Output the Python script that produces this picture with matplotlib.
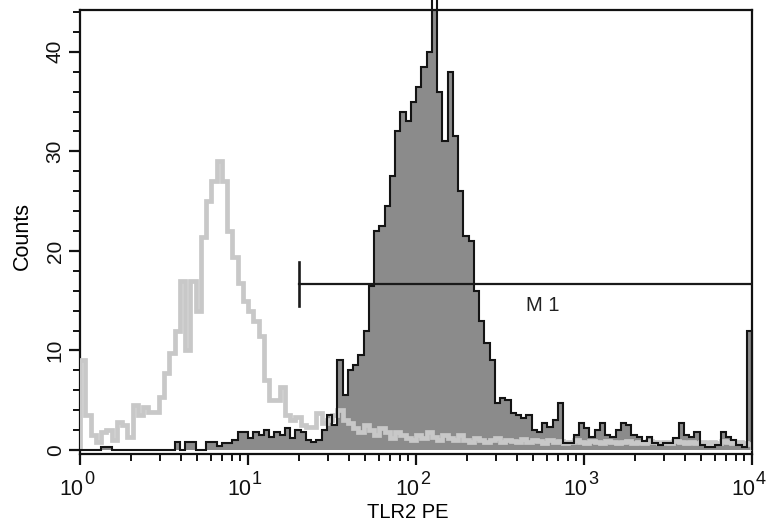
import numpy as np
import matplotlib
matplotlib.use("Agg")
import matplotlib.pyplot as plt
from matplotlib.ticker import LogLocator, MultipleLocator, NullFormatter, FixedLocator

plt.rcParams['font.family'] = ['Liberation Sans', 'DejaVu Sans']

# ---- data: 128 log channels over 4 decades (10^0 .. 10^4) ----
n_channels = 128
decades = 4

control_counts = [
    9.0, 3.5, 1.5, 0.8, 1.8, 2.0, 1.0, 2.8, 2.5, 1.3,
    4.5, 3.5, 4.3, 3.8, 3.8, 5.3, 7.7, 9.7, 12.0, 17.0,
    10.0, 17.0, 14.0, 21.4, 25.0, 27.0, 29.0, 27.0, 22.0, 19.4,
    16.8, 15.0, 14.0, 13.0, 11.5, 7.0, 5.0, 5.0, 6.3, 3.5,
    3.0, 3.3, 2.5, 2.3, 2.3, 3.7, 2.7, 3.0, 3.5, 4.0,
    3.0, 2.7, 2.2, 1.8, 2.5, 2.0, 1.5, 2.2, 1.8, 1.2,
    1.8, 1.5, 1.2, 1.0, 1.5, 1.2, 1.8, 1.3, 1.0, 1.5,
    1.2, 1.0, 1.5, 1.0, 0.8, 1.2, 1.0, 0.8, 1.0, 1.2,
    0.8, 1.0, 0.9, 0.8, 1.1, 0.8, 1.0, 0.9, 0.7, 1.0,
    0.8, 0.9, 0.7, 0.8, 1.0, 0.8, 0.7, 0.9, 0.8, 0.7,
    0.9, 0.8, 0.7, 0.8, 0.9, 0.7, 0.8, 0.7, 0.9, 0.8,
    0.7, 0.8, 0.7, 0.9, 0.8, 0.7, 0.8, 0.7, 0.8, 0.7,
    0.8, 0.7, 0.9, 0.8, 0.7, 0.8, 0.7, 0.6,
]

tlr2_counts = [
    0.0, 0.0, 0.0, 0.0, 0.3, 0.3, 0.0, 0.0, 0.0, 0.0,
    0.0, 0.0, 0.0, 0.0, 0.0, 0.0, 0.0, 0.0, 0.8, 0.0,
    0.8, 0.8, 0.0, 0.0, 0.8, 0.8, 0.4, 0.7, 0.7, 1.0,
    1.8, 1.8, 1.2, 1.8, 1.5, 2.0, 1.3, 1.8, 1.5, 2.2,
    1.2, 2.0, 1.8, 1.0, 0.8, 1.0, 2.0, 3.5, 2.5, 9.0,
    5.5, 8.0, 8.5, 9.5, 12.0, 16.5, 22.0, 22.5, 24.5, 27.5,
    32.0, 34.0, 33.0, 35.0, 36.5, 38.5, 40.0, 46.0, 36.0, 31.0,
    38.0, 31.5, 26.0, 21.5, 21.0, 16.0, 13.0, 10.7, 9.0, 4.7,
    5.2, 5.0, 3.7, 3.5, 3.2, 3.5, 2.0, 1.8, 2.7, 2.3,
    3.0, 4.7, 0.7, 0.7, 1.5, 2.7, 2.2, 1.3, 2.0, 2.7,
    1.5, 1.3, 2.0, 2.7, 2.5, 1.5, 1.3, 0.9, 1.3, 0.7,
    0.5, 0.7, 0.7, 1.2, 2.7, 1.5, 1.3, 1.8, 0.5, 0.3,
    0.3, 0.5, 1.8, 1.3, 1.0, 0.5, 0.3, 12.0,
]

gate_label = "M 1"
gate_low = 20.0
gate_high = 1.0e4
gate_level = 16.7
gate_label_x = 570.0
gate_label_y = 15.5

x_label = "TLR2 PE"
y_label = "Counts"
x_decade_exponents = [0, 1, 2, 3, 4]
y_major_ticks = [0, 10, 20, 30, 40]

# ---- figure ----
fig = plt.figure(figsize=(7.67, 5.25), dpi=100)
ax = fig.add_axes([80 / 767, 1 - 454 / 525, 672 / 767, 444 / 525])

edges = 10.0 ** (np.arange(n_channels + 1) * decades / n_channels)

ax.stairs(tlr2_counts, edges, fill=True, color='#8b8b8b', zorder=2)
ax.stairs(control_counts, edges, color='#c8c8c8', lw=3.4, zorder=3)
ax.stairs(tlr2_counts, edges, color='#141414', lw=1.5, zorder=4, clip_on=False)

# gate marker
ax.plot([gate_low, gate_high], [gate_level, gate_level], color='#1a1a1a', lw=1.6, zorder=5)
ax.plot([gate_low, gate_low], [gate_level - 2.2, gate_level + 2.2], color='#1a1a1a', lw=1.9, zorder=5)
ax.text(gate_label_x, gate_label_y, gate_label, fontsize=14.5, ha='center', va='top',
        color='#222222', zorder=6)

ax.set_xscale('log')
ax.set_xlim(1, 1e4)
ax.set_ylim(-0.4, 44.2)

major_x = [10.0 ** k for k in x_decade_exponents]
ax.xaxis.set_major_locator(FixedLocator(major_x))
ax.xaxis.set_minor_locator(LogLocator(base=10, subs=np.arange(2, 10), numticks=100))
ax.xaxis.set_major_formatter(NullFormatter())
ax.xaxis.set_minor_formatter(NullFormatter())
ax.set_yticks(y_major_ticks)
ax.yaxis.set_minor_locator(MultipleLocator(2))

ax.tick_params(axis='both', which='major', direction='out', length=8, width=1.6, colors='#111111')
ax.tick_params(axis='both', which='minor', direction='out', length=5, width=1.4, colors='#111111')
ax.tick_params(axis='y', which='major', labelsize=15, labelrotation=90, pad=3)
for lbl in ax.get_yticklabels():
    lbl.set_va('center')

# decade labels with large superscripts
for k, xv in zip(x_decade_exponents, major_x):
    ax.annotate("10", xy=(xv, 0), xycoords=('data', 'axes fraction'),
                xytext=(3, -41), textcoords='offset pixels',
                ha='right', va='baseline', fontsize=15.5, color='#111111',
                annotation_clip=False)
    ax.annotate(str(k), xy=(xv, 0), xycoords=('data', 'axes fraction'),
                xytext=(4, -30), textcoords='offset pixels',
                ha='left', va='baseline', fontsize=13, color='#111111',
                annotation_clip=False)

for s in ax.spines.values():
    s.set_linewidth(1.6)
    s.set_color('#111111')

ax.set_xlabel(x_label, fontsize=14.5)
ax.xaxis.set_label_coords(0.488, -0.110)
ax.set_ylabel(y_label, fontsize=15.5)
ax.yaxis.set_label_coords(-0.070, 0.49)

fig.savefig('out.png', dpi=100)
